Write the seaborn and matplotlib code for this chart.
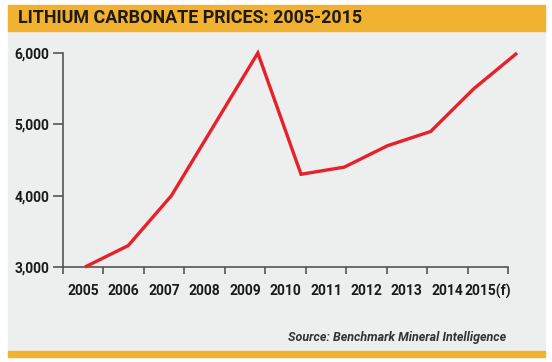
import matplotlib
matplotlib.use("Agg")
import matplotlib.pyplot as plt
from matplotlib.patches import Rectangle
import seaborn as sns
import pandas as pd

# data
years = ['2005', '2006', '2007', '2008', '2009', '2010',
         '2011', '2012', '2013', '2014', '2015(f)']
prices = [3000, 3300, 4000, 5000, 6000, 4300, 4400, 4700, 4900, 5500, 6000]
y_ticks = [3000, 4000, 5000, 6000]

title = 'LITHIUM CARBONATE PRICES: 2005-2015'
source = 'Source: Benchmark Mineral Intelligence'

ORANGE = '#F1B131'
BG = '#EDEEEE'
RED = '#E8202A'
AXIS = '#555555'
TEXT = '#1a1a1a'

sns.set_style('white')
plt.rcParams['font.family'] = ['Roboto', 'DejaVu Sans']

W, H = 552, 362
fig = plt.figure(figsize=(W / 100, H / 100), dpi=100, facecolor='white')

def fx(px):
    return px / W

def fy(py):
    return 1 - py / H

# panel background, title band, bottom bar (behind the axes)
fig.patches.append(Rectangle((fx(8), fy(351)), fx(537), 321 / H,
                             transform=fig.transFigure, color=BG, zorder=-10))
fig.patches.append(Rectangle((fx(8), fy(31)), fx(537), 26 / H,
                             transform=fig.transFigure, color=ORANGE, zorder=-10))
fig.patches.append(Rectangle((fx(8), fy(357)), fx(537), 6 / H,
                             transform=fig.transFigure, color=ORANGE, zorder=-10))

fig.text(fx(18), fy(18), title, fontsize=12.9, fontweight='bold',
         color='#1f1a12', va='center', ha='left')
fig.text(fx(506), fy(338), source, fontsize=9, fontweight='bold',
         fontstyle='italic', color='#333333', va='center', ha='right')

ax = fig.add_axes([fx(63), fy(267), fx(508 - 63), (267 - 53) / H])
ax.patch.set_alpha(0)

# category axis: ticks at boundaries, labels centred between them
n = len(years)
ax.set_xlim(0, n)
ax.set_xticks(range(n + 1))
ax.set_xticklabels([])
ax.set_xticks([i + 0.5 for i in range(n)], minor=True)
ax.set_xticklabels(years, minor=True, fontsize=10, fontweight='bold', color=TEXT)
ax.tick_params(axis='x', which='major', bottom=True, direction='out',
               length=5, width=1.2, color=AXIS)
ax.tick_params(axis='x', which='minor', bottom=True, length=0, pad=12)

ax.set_ylim(3000, 6000)
ax.set_yticks(y_ticks)
ax.set_yticklabels([f'{v:,}' for v in y_ticks], fontsize=10,
                   fontweight='bold', color=TEXT)
ax.tick_params(axis='y', left=True, direction='out', length=7, width=1.2,
               color=AXIS, pad=3)

for side in ['top', 'right']:
    ax.spines[side].set_visible(False)
for side in ['left', 'bottom']:
    ax.spines[side].set_color(AXIS)
    ax.spines[side].set_linewidth(1.2)

# the price line sits on its own x scale (points are spaced a bit wider
# than the category labels in the original)
ax2 = ax.twiny()
df = pd.DataFrame({'idx': range(n), 'price': prices})
sns.lineplot(data=df, x='idx', y='price', ax=ax2, color=RED, linewidth=2.4,
             clip_on=False, solid_joinstyle='miter', solid_capstyle='butt')
ax2.set_xlim(-0.509, 9.79)
ax2.set_ylim(3000, 6000)
ax2.set_axis_off()

fig.savefig('out.png', dpi=100, facecolor='white')
